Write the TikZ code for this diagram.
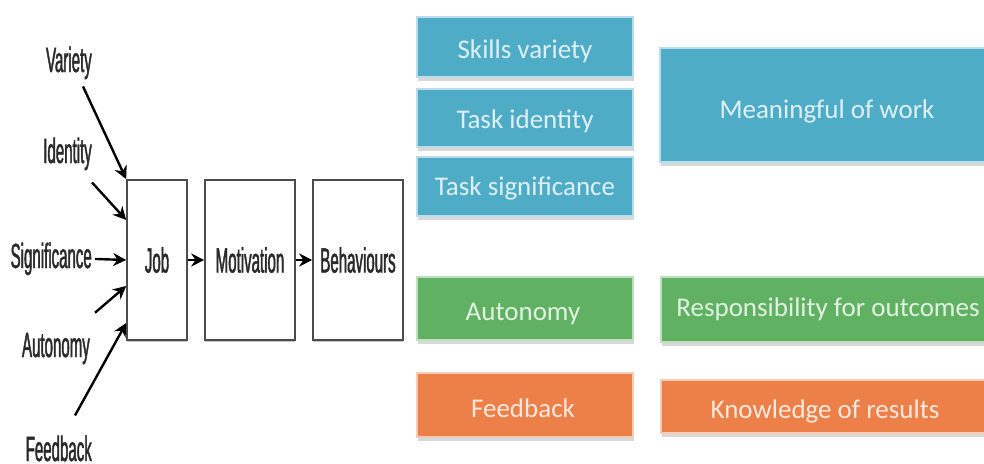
\documentclass[tikz,border=0pt]{standalone}
\usepackage{fontspec}
\newfontfamily\narrowfont[FakeStretch=0.43,FakeBold=1.2]{Liberation Sans}
\newfontfamily\boxfont{Carlito}
\usetikzlibrary{arrows.meta,shadows}
\definecolor{inkgray}{HTML}{2A2A2A}
\definecolor{tileblue}{HTML}{4FACC7}
\definecolor{tilegreen}{HTML}{60B262}
\definecolor{tileorange}{HTML}{EC8048}
\tikzset{
  flowbox/.style={draw=gray!60!black, line width=1.6pt, fill=white,
    minimum height=160pt, inner sep=0pt, text=inkgray,
    font=\narrowfont\fontsize{35}{40}\selectfont,
    drop shadow={shadow xshift=0pt, shadow yshift=-2pt, opacity=0.45}},
  factor/.style={font=\narrowfont\fontsize{35}{40}\selectfont, text=inkgray,
    inner sep=0pt, anchor=base east},
  arr/.style={-{Stealth[length=13pt,width=13pt]}, line width=2.4pt, black},
  tile/.style={fill=#1, draw=white!60!#1, line width=1.5pt, inner sep=0pt,
    drop shadow={shadow xshift=1pt, shadow yshift=-4pt, opacity=0.3}},
  tiletext/.style={font=\boxfont\fontsize{27}{32}\selectfont,
    text=white!82!#1, inner sep=0pt, anchor=base}
}
\begin{document}
\begin{tikzpicture}[x=1pt,y=-1pt]
\useasboundingbox (0,0) rectangle (984,463);
\fill[white] (0,0) rectangle (984,463);
\clip (0,0) rectangle (984,463);

% job characteristics model: flow of boxes
\node[flowbox, minimum width=60pt] (job) at (157,260) {Job};
\node[flowbox, minimum width=90pt] (mot) at (250,260) {Motivation};
\node[flowbox, minimum width=90pt] (beh) at (358,260) {Behaviours};

% the five core dimensions
\node[factor] (var) at (92,72) {Variety};
\node[factor] (ide) at (92,163) {Identity};
\node[factor] (sig) at (92,268) {Significance};
\node[factor] (aut) at (90,357) {Autonomy};
\node[factor] (fee) at (92,461) {Feedback};

\draw[arr] ([xshift=-9pt,yshift=-7pt]var.south east) -- (job.north west);
\draw[arr] ([yshift=-12pt]ide.south east) -- ([yshift=40pt]job.west);
\draw[arr] ([xshift=3pt]sig.east) -- (job.west);
\draw[arr] ([xshift=5pt,yshift=20pt]aut.north east) -- ([yshift=-26pt]job.west);
\draw[arr] ([xshift=-17pt,yshift=20pt]fee.north east) -- ([yshift=-63pt]job.west);
\draw[arr] (job) -- (mot);
\draw[arr] (mot) -- (beh);

% dimensions and the psychological states they lead to
\node[tile=tileblue, minimum width=216pt, minimum height=60pt] (sv) at (525,47) {};
\node[tile=tileblue, minimum width=216pt, minimum height=58pt] (ti) at (525,118) {};
\node[tile=tileblue, minimum width=216pt, minimum height=59pt] (ts) at (525,186.5) {};
\node[tile=tileblue, minimum width=340pt, minimum height=114pt] (mw) at (830,105) {};
\node[tile=tilegreen, minimum width=216pt, minimum height=63pt] (au) at (525,308.5) {};
\node[tile=tilegreen, minimum width=340pt, minimum height=65pt] (ro) at (831,309.5) {};
\node[tile=tileorange, minimum width=216pt, minimum height=64pt] (fb) at (525,405) {};
\node[tile=tileorange, minimum width=340pt, minimum height=53pt] (kr) at (831,406.5) {};

\node[tiletext=tileblue] (svt) at (525,58) {Skills variety};
\node[tiletext=tileblue] (tit) at (525,128) {Task identity};
\node[tiletext=tileblue] (tst) at (525,195) {Task significance};
\node[tiletext=tileblue] (mwt) at (827,118) {Meaningful of work};
\node[tiletext=tilegreen] (aut2) at (523,320) {Autonomy};
\node[tiletext=tilegreen] (rot) at (828,316) {Responsibility for outcomes};
\node[tiletext=tileorange] (fbt) at (523,417) {Feedback};
\node[tiletext=tileorange] (krt) at (825,418) {Knowledge of results};
\end{tikzpicture}
\end{document}
